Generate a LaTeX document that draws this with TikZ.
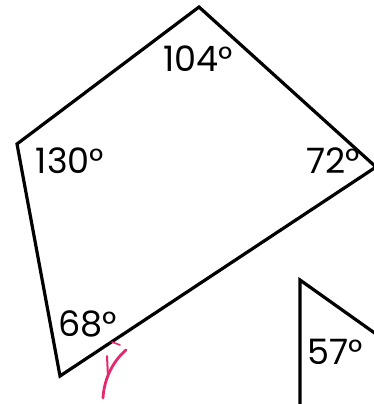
\documentclass[tikz,border=0pt]{standalone}
\usepackage{fontspec}
\setmainfont{Poppins}
\usepackage{tikz}
\usetikzlibrary{positioning, calc}
\definecolor{penpink}{RGB}{228,40,112}
\tikzset{
    side/.style={draw, line width=3.2pt, line join=miter},
    anglelbl/.style={font=\fontsize{35}{35}\selectfont, inner sep=0pt, anchor=center},
    penstroke/.style={draw=penpink, line width=2.8pt, line cap=round, line join=round},
}
\begin{document}
\begin{tikzpicture}[x=1pt, y=-1pt]
        \useasboundingbox (0,0) rectangle (374,404);
        % quadrilateral
        \coordinate (qtop) at (199,7);
        \coordinate (qright) at (376,167);
        \coordinate (qbot) at (60,376);
        \coordinate (qleft) at (17,144);
        \draw[side] (qtop) -- (qright) -- (qbot) -- (qleft) -- cycle;
        \node[anglelbl] (atop) at (198,59) {104°};
        \node[anglelbl] (aleft) at (70,161) {130°};
        \node[anglelbl] (aright) at (333,161) {72°};
        \node[anglelbl] (abot) at (88,324) {68°};
        % second figure, cut off
        \coordinate (ttop) at (300,280);
        \coordinate (tright) at (376,334);
        \coordinate (tdown) at (300,406);
        \draw[side] (tright) -- (ttop) -- (tdown);
        \node[anglelbl] (tang) at (335,352) {57°};
        % handwritten mark
        \draw[penstroke, line width=1.6pt] (112,342) -- (120,345);
        \draw[penstroke] (126,350) .. controls (112,362) and (104,380) .. (103,398);
        \draw[penstroke, line width=2pt] (107,356) -- (108,377);
    \end{tikzpicture}
\end{document}
